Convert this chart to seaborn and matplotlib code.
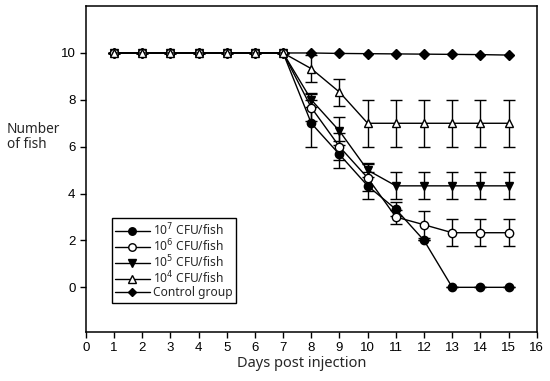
import matplotlib
matplotlib.use('Agg')
import matplotlib.pyplot as plt
import seaborn as sns
import pandas as pd

days = list(range(1, 16))

cfu7 = [10, 10, 10, 10, 10, 10, 10, 7.0, 5.67, 4.33, 3.33, 2.0, 0, 0, 0]
cfu7_err = [0, 0, 0, 0, 0, 0, 0, 1.0, 0.58, 0.58, 0.3, 0, 0, 0, 0]
cfu6 = [10, 10, 10, 10, 10, 10, 10, 7.67, 6.0, 4.67, 3.0, 2.67, 2.33, 2.33, 2.33]
cfu6_err = [0, 0, 0, 0, 0, 0, 0, 0.58, 0.58, 0.58, 0.3, 0.58, 0.58, 0.58, 0.58]
cfu5 = [10, 10, 10, 10, 10, 10, 10, 8.0, 6.67, 5.0, 4.33, 4.33, 4.33, 4.33, 4.33]
cfu5_err = [0, 0, 0, 0, 0, 0, 0, 0.3, 0.58, 0.3, 0.58, 0.58, 0.58, 0.58, 0.58]
cfu4 = [10, 10, 10, 10, 10, 10, 10, 9.33, 8.33, 7.0, 7.0, 7.0, 7.0, 7.0, 7.0]
cfu4_err = [0, 0, 0, 0, 0, 0, 0, 0.58, 0.58, 1.0, 1.0, 1.0, 1.0, 1.0, 1.0]
control = [10, 10, 10, 10, 10, 10, 10, 10, 9.98, 9.97, 9.96, 9.95, 9.94, 9.93, 9.91]

labels = ['10$^7$ CFU/fish', '10$^6$ CFU/fish', '10$^5$ CFU/fish',
          '10$^4$ CFU/fish', 'Control group']

sns.set_style('ticks')
plt.rcParams['font.family'] = ['Liberation Sans', 'DejaVu Sans']

fig = plt.figure(figsize=(5.5, 3.81), dpi=100)
ax = fig.add_axes([0.156, 0.129, 0.82, 0.855])

# (values, errors, marker, face colour, size, zorder)
series = [
    (cfu7, cfu7_err, 'o', 'black', 6, 4),
    (cfu6, cfu6_err, 'o', 'white', 6, 6),
    (cfu5, cfu5_err, 'v', 'black', 6, 5),
    (cfu4, cfu4_err, '^', 'white', 6, 7),
    (control, None, 'D', 'black', 5, 3),
]

for (vals, err, mk, fc, ms, z), lab in zip(series, labels):
    df = pd.DataFrame({'day': days, 'n': vals})
    sns.lineplot(data=df, x='day', y='n', ax=ax, color='black', lw=1.0,
                 marker=mk, markersize=ms, markerfacecolor=fc,
                 markeredgecolor='black', markeredgewidth=1.0, label=lab,
                 zorder=z)
    if err is not None:
        ax.errorbar(days, vals, yerr=err, fmt='none', ecolor='black',
                    elinewidth=1.0, capsize=4, capthick=1.0, zorder=2)

ax.set_xlim(0, 16)
ax.set_ylim(-1.9, 12)
ax.set_xticks(range(0, 17))
ax.set_yticks([0, 2, 4, 6, 8, 10])
ax.tick_params(axis='both', direction='out', length=4, width=1,
               labelsize=9.5, colors='black', top=False, right=False)
for s in ax.spines.values():
    s.set_linewidth(1.1)
    s.set_color('black')

ax.set_xlabel('Days post injection', fontsize=10.5, family=['Noto Sans', 'DejaVu Sans'],
              labelpad=1)
ax.xaxis.set_label_coords(0.479, -0.075)
ax.set_ylabel('')
fig.text(0.012, 0.64, 'Number\nof fish', fontsize=9.8, ha='left', va='center',
         family=['Noto Sans', 'DejaVu Sans'], linespacing=1.0)

leg = ax.legend(loc='lower left', bbox_to_anchor=(0.057, 0.09), fontsize=8.6,
                frameon=True, fancybox=False, edgecolor='black', framealpha=1,
                handlelength=2.9, handletextpad=0.25, labelspacing=-0.05,
                borderpad=0.3, borderaxespad=0, markerscale=0.9)
leg.get_frame().set_linewidth(1.0)
for t in leg.get_texts():
    t.set_family(['Noto Sans', 'DejaVu Sans'])

fig.savefig('out.png', dpi=100)
